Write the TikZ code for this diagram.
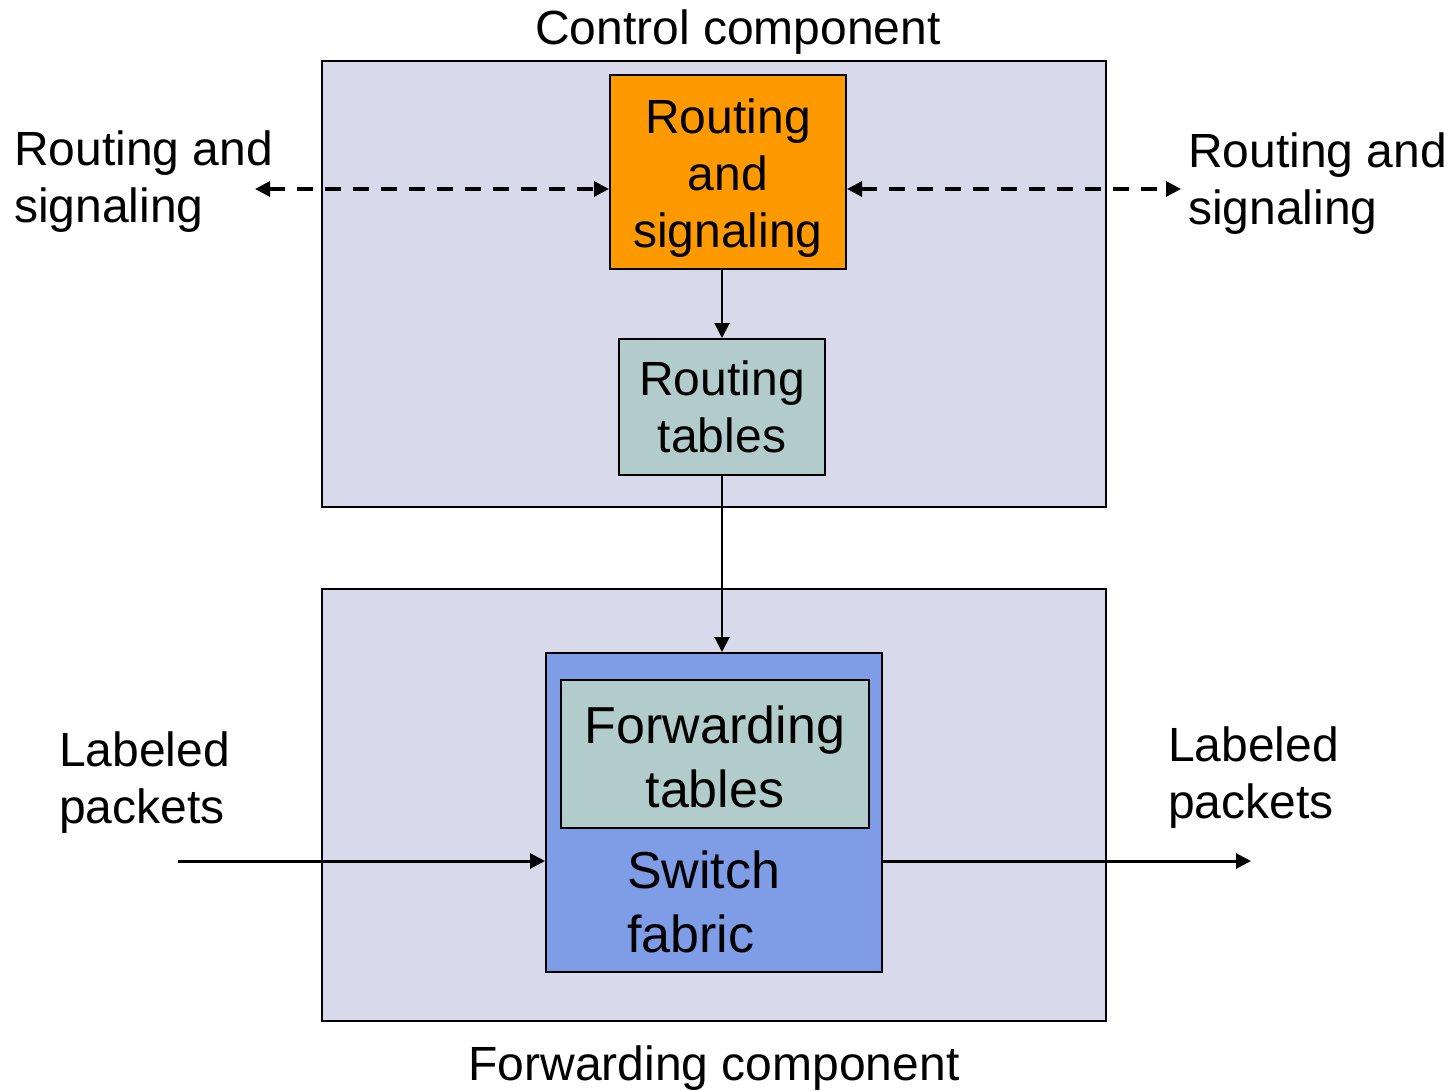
\documentclass[tikz,border=0pt]{standalone}
\usepackage{fontspec}
\setmainfont{Liberation Sans}
\usetikzlibrary{arrows.meta}
\definecolor{lav}{HTML}{D9D9EC}
\definecolor{orng}{HTML}{FF9900}
\definecolor{teal2}{HTML}{B2CCCC}
\definecolor{blu}{HTML}{7F9CE6}
\tikzset{
  box/.style={draw=black, line width=2pt, inner sep=0pt, align=center},
  lbl/.style={inner sep=0pt, font=\fontsize{48}{57}\selectfont},
  big/.style={font=\fontsize{52}{64}\selectfont},
  tip/.style={-{Triangle[length=15pt,width=15pt]}},
  dash2/.style={line width=3.2pt, dash pattern=on 16pt off 12pt, {Triangle[length=15pt,width=15pt]}-{Triangle[length=15pt,width=15pt]}}
}
\begin{document}
\begin{tikzpicture}[x=1pt,y=-1pt]
\useasboundingbox (0,0) rectangle (1456,1091);
% outer components
\node[box, fill=lav, minimum width=784pt, minimum height=446pt] (ctrl) at (714,284) {};
\node[box, fill=lav, minimum width=784pt, minimum height=432pt] (fwd) at (714,805) {};
\node[lbl] (ctrlt) at (738,32) {Control component};
\node[lbl] (fwdt) at (714,1068) {Forwarding component};
% control inner
\node[box, fill=orng, minimum width=236pt, minimum height=194pt] (rs) at (728,172) {};
\node[lbl, align=center] (rst) at (728,178) {Routing\\and\\signaling};
\node[box, lbl, fill=teal2, minimum width=206pt, minimum height=136pt] (rt) at (722,407) {Routing\\tables};
% forwarding inner
\node[box, fill=blu, minimum width=336pt, minimum height=319pt] (sf) at (714,812.5) {};
\node[box, fill=teal2, minimum width=308pt, minimum height=148pt] (ft) at (715,754) {};
\node[lbl, big, align=center] (ftt) at (715,757) {Forwarding\\tables};
\node[lbl, big, align=left, anchor=west] (sft) at (627,902) {Switch\\fabric};
% side labels
\node[lbl, align=left, anchor=west] (ll) at (14,182) {Routing and\\signaling};
\node[lbl, align=left, anchor=west] (rl) at (1188,184) {Routing and\\signaling};
\node[lbl, align=left, anchor=west] (lp) at (59,783) {Labeled\\packets};
\node[lbl, align=left, anchor=west] (rp) at (1168,778) {Labeled\\packets};
% connectors
\coordinate (la) at (255,189);
\coordinate (ra) at (1181,189);
\coordinate (pin) at (178,861);
\coordinate (pout) at (1251,861);
\draw[dash2] (la) -- (la -| rs.west);
\draw[dash2] (ra -| rs.east) -- (ra);
\draw[tip, line width=2pt] (rs.south -| rt.north) -- (rt.north);
\draw[tip, line width=2pt] (rt.south) -- (rt.south |- sf.north);
\draw[tip, line width=3pt] (pin) -- (pin -| sf.west);
\draw[tip, line width=3pt] (pout -| sf.east) -- (pout);
\end{tikzpicture}
\end{document}
